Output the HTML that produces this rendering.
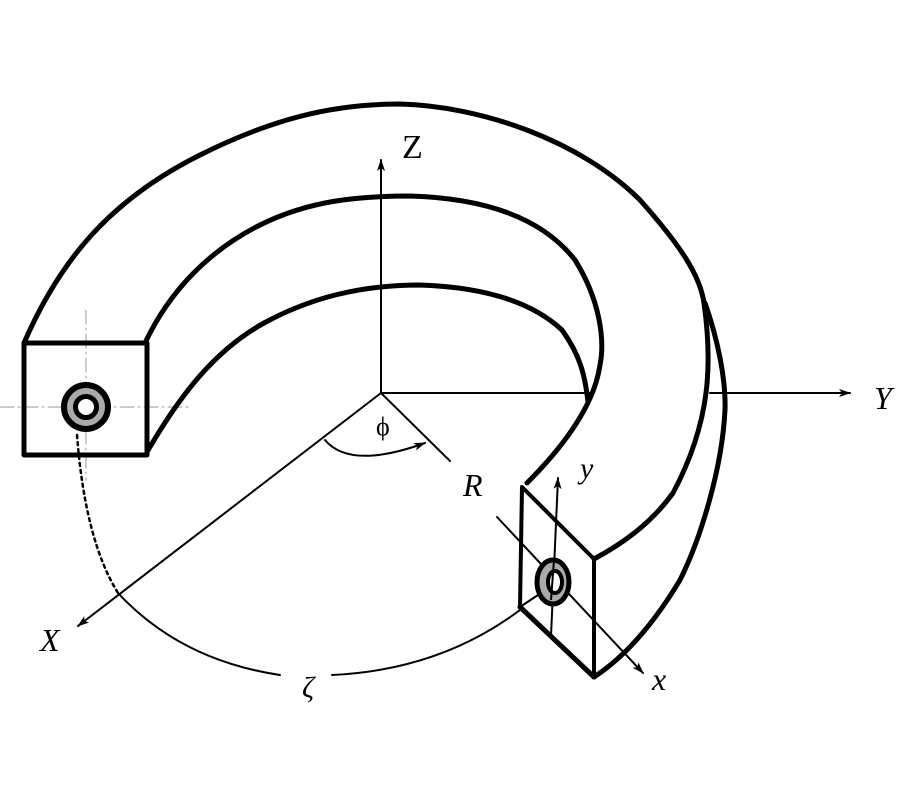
<!DOCTYPE html>
<html><head><meta charset="utf-8"><style>html,body{margin:0;padding:0;background:#fff}svg{display:block}</style></head>
<body>
<svg width="900" height="800" viewBox="0 0 900 800" xmlns="http://www.w3.org/2000/svg">
<defs>
<marker id="ah" viewBox="0 0 12 8" refX="11" refY="4" markerWidth="12" markerHeight="8" markerUnits="userSpaceOnUse" orient="auto">
<path d="M0,0 L12,4 L0,8 L3,4 z" fill="#000"/></marker>
</defs>
<g fill="none" stroke="#000" stroke-linecap="round" stroke-linejoin="round">
<!-- crosshair -->
<g stroke="#999" stroke-width="1" stroke-dasharray="14,4,2,4">
<line x1="0" y1="407" x2="190" y2="407"/>
<line x1="86" y1="310" x2="86" y2="480"/>
</g>
<!-- axes -->
<g stroke-width="2">
<line x1="381" y1="393" x2="381" y2="160" marker-end="url(#ah)"/>
<line x1="381" y1="393" x2="592" y2="393"/>
<line x1="710" y1="393" x2="850" y2="393" marker-end="url(#ah)"/>
<line x1="381" y1="393" x2="78" y2="626" marker-end="url(#ah)"/>
<line x1="381" y1="393" x2="450" y2="461"/>
<line x1="497" y1="517" x2="643" y2="673" marker-end="url(#ah)"/>
<line x1="551" y1="636" x2="558" y2="478" marker-end="url(#ah)"/>
<line x1="520" y1="607" x2="541" y2="593"/>
<path d="M325,440 Q350,470 425,443" marker-end="url(#ah)"/>
<path d="M118,593 Q180,660 280,675"/>
<path d="M332,675 Q440,670 520,610"/>
</g>
<path d="M77,435 Q85,540 118,593" stroke-width="2.5" stroke-dasharray="3,4"/>
<!-- tube -->
<g stroke-width="5">
<rect x="24" y="343" width="123" height="112"/>
<path d="M24,343 C60,260 110,200 200,155 C270,120 330,104 400,104 C480,106 580,140 640,200 C680,245 700,275 704,303 C712,360 712,420 673,493 C650,525 620,545 594,559"/>
<path d="M705,303 C718,340 726,380 725,410 C722,470 700,540 680,580 C650,630 620,660 594,677"/>
<path d="M145,343 C170,290 210,250 260,225 C310,200 360,196 410,196 C480,198 540,215 575,260 C600,300 605,340 600,365 C595,400 570,440 527,483"/>
<path d="M147,452 C180,395 215,350 264,323 C310,298 360,285 420,285 C480,287 530,300 562,330 C580,355 585,375 588,402"/>
<path d="M522,487 L594,559 L594,677 L520,607 Z" stroke-width="4"/>
</g>
<line x1="520" y1="607" x2="594" y2="677" stroke-width="5"/>
</g>
<!-- rings -->
<circle cx="86" cy="407" r="22" fill="#aaa" stroke="#000" stroke-width="6"/>
<circle cx="86" cy="407" r="10.5" fill="#fff" stroke="#000" stroke-width="5"/>
<ellipse cx="553" cy="582" rx="16" ry="22" fill="#aaa" stroke="#000" stroke-width="5"/>
<ellipse cx="555" cy="582" rx="7" ry="11" fill="#fff" stroke="#000" stroke-width="4"/>
<line x1="551" y1="600" x2="554" y2="560" stroke="#000" stroke-width="2"/>
<!-- labels -->
<g font-family="Liberation Serif, serif" fill="#000">
<text x="402" y="158" font-size="34">Z</text>
<text x="874" y="409" font-size="32" font-style="italic">Y</text>
<text x="40" y="651" font-size="32" font-style="italic">X</text>
<text x="463" y="496" font-size="32" font-style="italic">R</text>
<text x="580" y="478" font-size="30" font-style="italic">y</text>
<text x="652" y="690" font-size="32" font-style="italic">x</text>
<text x="376" y="435" font-size="26">ϕ</text>
<text x="302" y="697" font-size="30" font-style="italic">ζ</text>
</g>
</svg>
</body></html>
